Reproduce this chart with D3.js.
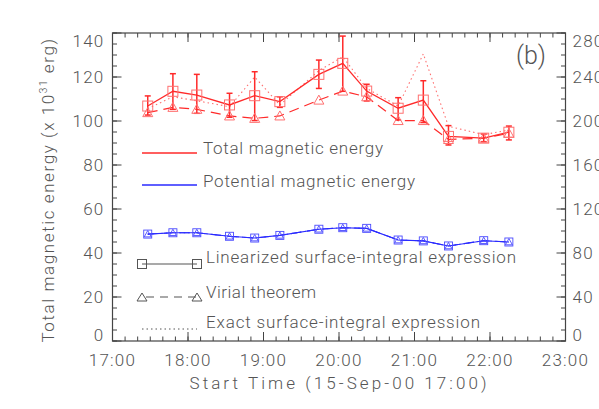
<!DOCTYPE html>
<html><head><meta charset="utf-8">
<script src="https://cdn.jsdelivr.net/npm/d3@7"></script>
<style>
html,body{margin:0;padding:0;background:#fff;}
svg{display:block;}
text{font-family:Roboto,Lato,"DejaVu Sans",sans-serif;font-weight:300;fill:#555;}
</style></head>
<body>
<svg id="c" width="599" height="409"></svg>
<script>
// ---- data ----
const times = ["17:28","17:48","18:07","18:33","18:53","19:13","19:44","20:03","20:22","20:47","21:07","21:27","21:55","22:15"];
const totalLinear    = [106.8,113.5,111.8,107.3,111.5,108.8,121.2,126.2,113.6,105.8,109.5,93.0,92.2,94.9];
const totalLinearLow = [102.7,105.3,103.5,101.7,100.2,106.2,114.8,113.5,109.1,100.5,99.3,89.1,90.6,91.4];
const totalLinearHigh= [111.4,121.5,121.2,112.6,122.4,111.0,127.7,138.6,116.7,110.6,118.3,97.9,94.1,97.7];
const totalVirial    = [103.8,106.2,105.3,102.3,101.2,102.3,109.5,113.6,111.0,100.2,100.2,91.6,92.2,94.4];
const totalExact     = [105.6,111.0,109.2,106.5,120.0,107.3,122.9,129.2,114.8,106.8,130.5,97.6,93.8,95.9];
const potential      = [48.6,49.2,49.2,47.6,46.8,48.0,50.8,51.5,51.2,45.9,45.5,43.2,45.6,45.0];
const xTickLabels = ["17:00","18:00","19:00","20:00","21:00","22:00","23:00"];
const yTicksLeft  = [0,20,40,60,80,100,120,140];
const yTicksRight = [0,40,80,120,160,200,240,280];
const legendTop = ["Total magnetic energy","Potential magnetic energy"];
const legendBottom = ["Linearized surface-integral expression","Virial theorem","Exact surface-integral expression"];

// ---- setup ----
const svg = d3.select("#c");
svg.append("rect").attr("width",599).attr("height",409).attr("fill","#fff");
const parse = d3.timeParse("%H:%M");
const xs = times.map(parse);
const x = d3.scaleTime().domain([parse("17:00"),parse("23:00")]).range([112.5,565.5]);
const y = d3.scaleLinear().domain([0,140]).range([341,33]);
const yR = d3.scaleLinear().domain([0,280]).range([341,33]);
const L = x.range()[0], R = x.range()[1], T = y.range()[1], B = y.range()[0];
const axisCol = "#444";
const RED = "#ff2a2a", RED2 = "#ff7070", BLUE = "#2a2aff", BLUE2 = "#4a4aff", GRAY = "#555";

// ---- axes box & ticks ----
const g = svg.append("g");
g.append("rect").attr("x",L).attr("y",T).attr("width",R-L).attr("height",B-T)
 .attr("fill","none").attr("stroke",axisCol).attr("stroke-width",1.2);

const hourTicks = xTickLabels.map(parse);
const minorX = d3.timeMinute.every(10).range(parse("17:00"), parse("23:00"));
function tickX(vals,len){
  vals.forEach(v=>{
    const px = x(v);
    g.append("line").attr("x1",px).attr("x2",px).attr("y1",B).attr("y2",B-len).attr("stroke",axisCol);
    g.append("line").attr("x1",px).attr("x2",px).attr("y1",T).attr("y2",T+len).attr("stroke",axisCol);
  });
}
tickX(minorX,4.5); tickX(hourTicks,9);
const minorY = d3.range(0,141,5);
function tickY(vals,len){
  vals.forEach(v=>{
    const py = y(v);
    g.append("line").attr("x1",L).attr("x2",L+len).attr("y1",py).attr("y2",py).attr("stroke",axisCol);
    g.append("line").attr("x1",R).attr("x2",R-len).attr("y1",py).attr("y2",py).attr("stroke",axisCol);
  });
}
tickY(minorY,4.5); tickY(yTicksLeft,9);

// tick labels
const fs = 17;
xTickLabels.forEach((t,i)=>{
  g.append("text").attr("x",x(hourTicks[i])).attr("y",366).attr("text-anchor","middle")
   .attr("font-size",fs).attr("letter-spacing",1.2).text(t);
});
function yLabelPos(i,n){ return i===0 ? -6 : (i===n-1 ? 8 : 0); }
yTicksLeft.forEach((v,i)=>{
  g.append("text").attr("x",L-8).attr("y",y(v)+yLabelPos(i,yTicksLeft.length)+6)
   .attr("text-anchor","end").attr("font-size",fs).attr("letter-spacing",1.2).text(v);
});
yTicksRight.forEach((v,i)=>{
  g.append("text").attr("x",R+7).attr("y",yR(v)+yLabelPos(i,yTicksRight.length)+6)
   .attr("text-anchor","start").attr("font-size",fs).attr("letter-spacing",1.2).text(v);
});
// axis titles
g.append("text").attr("x",338).attr("y",389).attr("text-anchor","middle").attr("font-size",fs)
 .attr("textLength",297).attr("lengthAdjust","spacing").text("Start Time (15-Sep-00 17:00)");
const yt = g.append("text").attr("transform","translate(54,190) rotate(-90)").attr("text-anchor","middle")
 .attr("font-size",fs).attr("letter-spacing",1.6);
yt.append("tspan").text("Total magnetic energy (x 10");
yt.append("tspan").attr("font-size",10).attr("dy",-7).text("31");
yt.append("tspan").attr("dy",7).text(" erg)");
g.append("text").attr("x",531).attr("y",64).attr("text-anchor","middle").attr("font-size",25).text("(b)");

// ---- series ----
const pts = arr => arr.map((v,i)=>[x(xs[i]),y(v)]);
const line = d3.line();
function drawLine(arr,col,dash,w){
  g.append("path").attr("d",line(pts(arr))).attr("fill","none").attr("stroke",col)
   .attr("stroke-width",w||1.2).attr("stroke-dasharray",dash||null);
}
function squares(arr,col,s,w){
  s = s||10;
  pts(arr).forEach(([px,py])=>g.append("rect").attr("x",px-s/2).attr("y",py-s/2).attr("width",s).attr("height",s)
    .attr("fill","none").attr("stroke",col).attr("stroke-width",w||1));
}
function triangles(arr,col,s,w){
  s = (s||10)/2;
  pts(arr).forEach(([px,py])=>g.append("path")
    .attr("d",`M${px-s},${py+s*0.8}L${px+s},${py+s*0.8}L${px},${py-s}Z`)
    .attr("fill","none").attr("stroke",col).attr("stroke-width",w||1));
}
// total energy
drawLine(totalExact,RED2,"1.5,3",1.1);
drawLine(totalVirial,RED,"10,6",1.2);
drawLine(totalLinear,RED,null,1.3);
xs.forEach((t,i)=>{
  const px=x(t), y1=y(totalLinearLow[i]), y2=y(totalLinearHigh[i]);
  g.append("line").attr("x1",px).attr("x2",px).attr("y1",y1).attr("y2",y2).attr("stroke",RED).attr("stroke-width",1.5);
  [y1,y2].forEach(yy=>g.append("line").attr("x1",px-3).attr("x2",px+3).attr("y1",yy).attr("y2",yy).attr("stroke",RED).attr("stroke-width",1.5));
});
squares(totalLinear,RED2);
triangles(totalVirial,RED2);
// potential energy
drawLine(potential,BLUE2,"1.5,3",1);
drawLine(potential,BLUE,"10,6",1.1);
drawLine(potential,BLUE,null,1.1);
squares(potential,BLUE2,8,0.9);
triangles(potential,BLUE2,7,0.9);

// ---- legend ----
const lx1=142, lx2=197, tx=203;
[[RED,153,148],[BLUE,185,181]].forEach(([c,ly,ty],i)=>{
  g.append("line").attr("x1",lx1).attr("x2",lx2).attr("y1",ly).attr("y2",ly).attr("stroke",c).attr("stroke-width",1.3);
  g.append("text").attr("x",tx).attr("y",ty+6).attr("font-size",fs)
   .attr("textLength",i===0?180:212).attr("lengthAdjust","spacing").text(legendTop[i]);
});
// linearized
g.append("line").attr("x1",lx1).attr("x2",lx2).attr("y1",264).attr("y2",264).attr("stroke",GRAY).attr("stroke-width",1.2);
[lx1,lx2].forEach(px=>g.append("rect").attr("x",px-4.5).attr("y",259.5).attr("width",9).attr("height",9).attr("fill","none").attr("stroke",GRAY));
g.append("text").attr("x",206).attr("y",263).attr("font-size",fs).attr("textLength",310).attr("lengthAdjust","spacing").text(legendBottom[0]);
// virial
g.append("line").attr("x1",lx1).attr("x2",lx2).attr("y1",297).attr("y2",297).attr("stroke",GRAY).attr("stroke-width",1.2).attr("stroke-dasharray","8,6").attr("stroke-dashoffset",-4);
[lx1,lx2].forEach(px=>g.append("path").attr("d",`M${px-5},${301}L${px+5},${301}L${px},${293}Z`).attr("fill","none").attr("stroke",GRAY));
g.append("text").attr("x",206).attr("y",298).attr("font-size",fs).attr("textLength",110).attr("lengthAdjust","spacing").text(legendBottom[1]);
// exact
g.append("line").attr("x1",lx1).attr("x2",lx2).attr("y1",329).attr("y2",329).attr("stroke",GRAY).attr("stroke-width",1).attr("stroke-dasharray","1.5,3");
g.append("text").attr("x",206).attr("y",328).attr("font-size",fs).attr("textLength",274).attr("lengthAdjust","spacing").text(legendBottom[2]);
</script>
</body></html>
